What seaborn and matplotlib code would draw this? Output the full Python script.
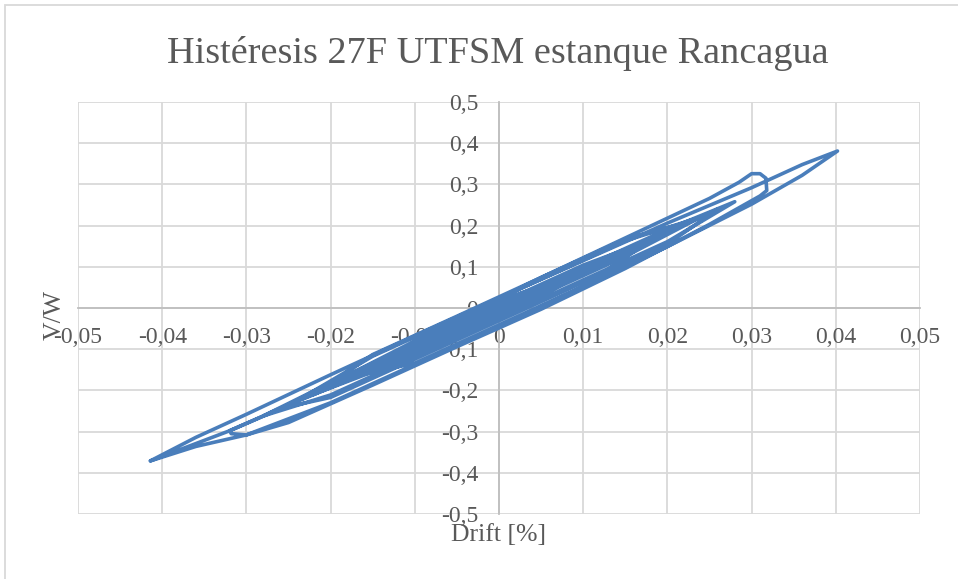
import numpy as np
import pandas as pd
import matplotlib
matplotlib.use('Agg')
import matplotlib.pyplot as plt
import seaborn as sns
from matplotlib.patches import Rectangle

# ciclos (drift en %, V/W)
ciclo1_x = [-0.0414, -0.036, -0.030, -0.020, -0.010, 0.000, 0.010, 0.020, 0.030, 0.036, 0.0402,
            0.036, 0.030, 0.020, 0.010, 0.000, -0.010, -0.020, -0.030, -0.036, -0.0414]
ciclo1_y = [-0.371, -0.336, -0.308, -0.230, -0.137, -0.045, 0.052, 0.149, 0.252, 0.322, 0.381,
            0.348, 0.292, 0.206, 0.115, 0.024, -0.068, -0.162, -0.258, -0.314, -0.371]
ciclo2_x = [-0.032, -0.025, -0.015, -0.005, 0.005, 0.015, 0.025, 0.0285, 0.0300, 0.0310, 0.0317, 0.0318,
            0.031, 0.025, 0.015, 0.005, -0.005, -0.015, -0.025, -0.030, -0.0318, -0.032]
ciclo2_y = [-0.298, -0.236, -0.132, -0.028, 0.074, 0.170, 0.266, 0.305, 0.326, 0.326, 0.315, 0.285,
            0.272, 0.203, 0.096, -0.003, -0.094, -0.187, -0.278, -0.308, -0.305, -0.298]
ciclo3_x = [-0.028, -0.020, -0.010, 0.000, 0.010, 0.020, 0.028,
            0.020, 0.010, 0.000, -0.010, -0.020, -0.028]
ciclo3_y = [-0.262, -0.211, -0.118, -0.025, 0.068, 0.161, 0.258,
            0.191, 0.098, 0.005, -0.088, -0.181, -0.262]
ciclo4_x = [-0.024, -0.015, -0.005, 0.005, 0.015, 0.024, 0.015, 0.005, -0.005, -0.015, -0.024]
ciclo4_y = [-0.225, -0.155, -0.062, 0.032, 0.125, 0.221, 0.163, 0.070, -0.024, -0.117, -0.225]
ciclo5_x = [-0.026, -0.020, -0.010, 0.000, 0.010, 0.020, 0.026,
            0.020, 0.010, 0.000, -0.010, -0.020, -0.026]
ciclo5_y = [-0.244, -0.217, -0.124, -0.031, 0.062, 0.155, 0.240,
            0.183, 0.090, -0.003, -0.096, -0.189, -0.244]
ciclo6_x = [-0.018, -0.010, 0.000, 0.010, 0.018, 0.010, 0.000, -0.010, -0.018]
ciclo6_y = [-0.169, -0.134, -0.041, 0.052, 0.165, 0.104, 0.011, -0.082, -0.169]
ciclo7_x = [-0.012, -0.005, 0.005, 0.012, 0.005, -0.005, -0.012]
ciclo7_y = [-0.114, -0.066, 0.028, 0.110, 0.048, -0.046, -0.114]
ciclo8_x = [-0.008, 0.000, 0.008, 0.000, -0.008]
ciclo8_y = [-0.076, -0.007, 0.072, 0.019, -0.076]
ciclo9_x = [-0.022, -0.015, -0.005, 0.005, 0.015, 0.022, 0.015, 0.005, -0.005, -0.015, -0.022]
ciclo9_y = [-0.210, -0.151, -0.058, 0.036, 0.129, 0.206, 0.167, 0.074, -0.020, -0.113, -0.210]

x_ticks = [-0.05, -0.04, -0.03, -0.02, -0.01, 0, 0.01, 0.02, 0.03, 0.04, 0.05]
x_labels = ['-0,05', '-0,04', '-0,03', '-0,02', '-0,01', '0', '0,01', '0,02', '0,03', '0,04', '0,05']
y_ticks = [-0.5, -0.4, -0.3, -0.2, -0.1, 0, 0.1, 0.2, 0.3, 0.4, 0.5]
y_labels = ['-0,5', '-0,4', '-0,3', '-0,2', '-0,1', '0', '0,1', '0,2', '0,3', '0,4', '0,5']

xs = ciclo1_x + ciclo2_x + ciclo3_x + ciclo4_x + ciclo5_x + ciclo9_x + ciclo6_x + ciclo7_x + ciclo8_x
ys = ciclo1_y + ciclo2_y + ciclo3_y + ciclo4_y + ciclo5_y + ciclo9_y + ciclo6_y + ciclo7_y + ciclo8_y
df = pd.DataFrame({'drift': xs, 'vw': ys})

sns.set_style('white')
plt.rcParams['font.family'] = ['Liberation Serif', 'DejaVu Serif']
gris = '#595959'
grid = '#d9d9d9'

fig = plt.figure(figsize=(9.58, 5.79), dpi=100)
ax = fig.add_axes([78 / 958, 1 - 514 / 579, 842 / 958, 412 / 579])

sns.lineplot(data=df, x='drift', y='vw', sort=False, estimator=None, ax=ax,
             color='#4a7ebb', linewidth=2.6, solid_joinstyle='round', solid_capstyle='round', zorder=3)

ax.set_xlim(-0.05, 0.05)
ax.set_ylim(-0.5, 0.5)
ax.set_xticks(x_ticks)
ax.set_xticklabels(x_labels)
ax.set_yticks(y_ticks)
ax.set_yticklabels(y_labels)
ax.grid(True, color=grid, linewidth=1.3, zorder=0)
for t in ax.get_xgridlines() + ax.get_ygridlines():
    t.set_clip_on(False)

for s in ['top', 'right']:
    ax.spines[s].set_visible(False)
ax.spines['left'].set_position(('data', 0))
ax.spines['bottom'].set_position(('data', 0))
for s in ['left', 'bottom']:
    ax.spines[s].set_color('#bfbfbf')
    ax.spines[s].set_linewidth(1.3)
    ax.spines[s].set_zorder(1)
ax.tick_params(axis='both', length=0, labelsize=17, labelcolor=gris)
ax.tick_params(axis='y', pad=15)
ax.tick_params(axis='x', pad=14)
ax.set_xlabel('')
ax.set_ylabel('')

fig.text(0.52, 0.908, 'Histéresis 27F UTFSM estanque Rancagua', ha='center', va='center',
         fontsize=27.5, color=gris)
fig.text(0.52, 0.076, 'Drift [%]', ha='center', va='center', fontsize=18.5, color=gris)
fig.text(0.057, 0.456, 'V/W', ha='center', va='center', fontsize=18.5, color=gris, rotation=90)

fig.patches.append(Rectangle((5 / 958, -0.05), 1.2, 1 - 5 / 579 + 0.05, transform=fig.transFigure,
                             fill=False, edgecolor='#d9d9d9', linewidth=1.3))

fig.savefig('out.png', dpi=100)
